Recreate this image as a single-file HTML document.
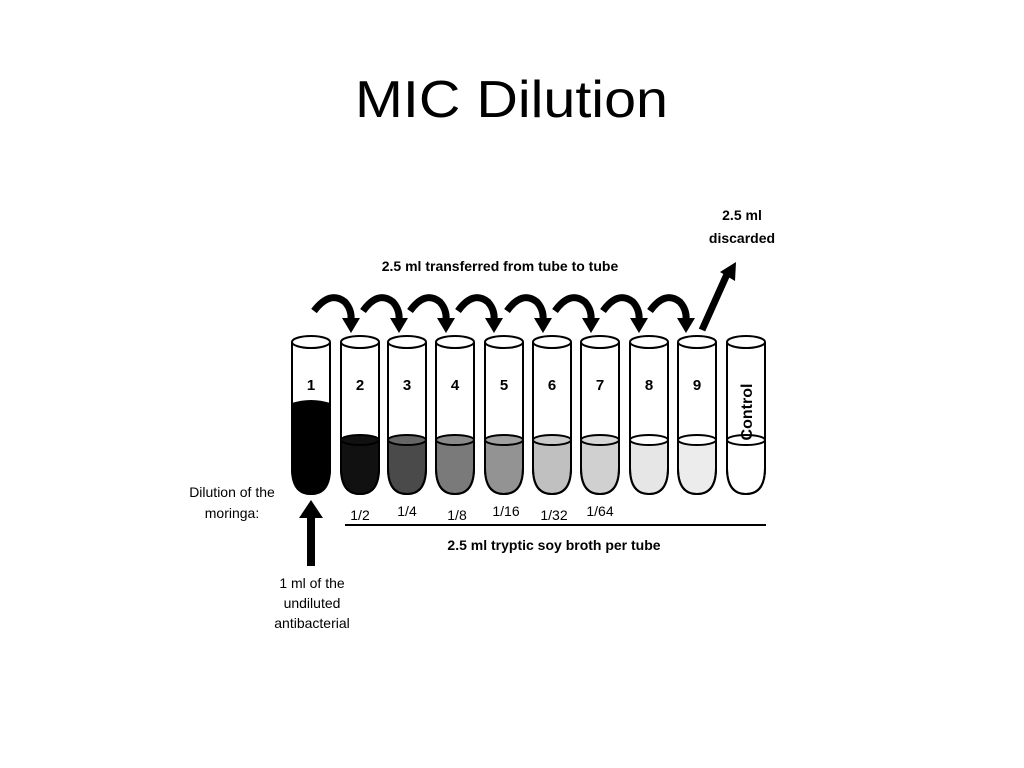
<!DOCTYPE html>
<html><head><meta charset="utf-8"><style>
body{margin:0;background:#fff;}
svg{display:block}
</style></head><body>
<svg width="1024" height="768" viewBox="0 0 1024 768" xmlns="http://www.w3.org/2000/svg" font-family="Liberation Sans, Arial, sans-serif">
<rect width="1024" height="768" fill="#fff"/>
<text x="355" y="117" font-family="Liberation Sans, sans-serif" font-size="52" textLength="313" lengthAdjust="spacingAndGlyphs" fill="#000">MIC Dilution</text>
<text x="500" y="271" text-anchor="middle" font-size="14" font-weight="bold">2.5 ml transferred from tube to tube</text>
<text x="742" y="220" text-anchor="middle" font-size="14" font-weight="bold">2.5 ml</text>
<text x="742" y="243" text-anchor="middle" font-size="14" font-weight="bold">discarded</text>
<g fill="none" stroke="#000" stroke-width="7">
<path d="M314,311 Q330,290 345,302 Q352,310 351,320"/>
<path d="M363,311 Q378,290 393,302 Q400,310 399,320"/>
<path d="M410,311 Q425,290 440,302 Q447,310 446,320"/>
<path d="M458,311 Q473,290 488,302 Q495,310 494,320"/>
<path d="M507,311 Q522,290 537,302 Q544,310 543,320"/>
<path d="M555,311 Q570,290 585,302 Q592,310 591,320"/>
<path d="M603,311 Q618,290 633,302 Q640,310 639,320"/>
<path d="M650,311 Q665,290 680,302 Q687,310 686,320"/>
<path d="M702,330 L728,272"/>
</g>
<g fill="#000">
<path d="M342,318 L360,318 L351,333z"/>
<path d="M390,318 L408,318 L399,333z"/>
<path d="M437,318 L455,318 L446,333z"/>
<path d="M485,318 L503,318 L494,333z"/>
<path d="M534,318 L552,318 L543,333z"/>
<path d="M582,318 L600,318 L591,333z"/>
<path d="M630,318 L648,318 L639,333z"/>
<path d="M677,318 L695,318 L686,333z"/>
<path d="M720,272 L736,262 L735,281z"/>
</g>
<g stroke="#000" stroke-width="2">
<path d="M292,404 Q311,398 330,404 L330,468 Q330,494 311,494 Q292,494 292,468z" fill="#000"/>
<path d="M292,342 L292,468 Q292,494 311,494 Q330,494 330,468 L330,342" fill="none"/>
<ellipse cx="311" cy="342" rx="19" ry="6" fill="#fff"/>
</g>
<g stroke="#000" stroke-width="2">
<g transform="translate(360,0)"><path d="M-19,440 L19,440 L19,468 Q19,494 0,494 Q-19,494 -19,468z" fill="#111"/><ellipse cx="0" cy="440" rx="19" ry="5" fill="#111"/><path d="M-19,342 V468 Q-19,494 0,494 Q19,494 19,468 V342" fill="none"/><ellipse cx="0" cy="342" rx="19" ry="6" fill="#fff"/></g>
<g transform="translate(407,0)"><path d="M-19,440 L19,440 L19,468 Q19,494 0,494 Q-19,494 -19,468z" fill="#4a4a4a"/><ellipse cx="0" cy="440" rx="19" ry="5" fill="#666"/><path d="M-19,342 V468 Q-19,494 0,494 Q19,494 19,468 V342" fill="none"/><ellipse cx="0" cy="342" rx="19" ry="6" fill="#fff"/></g>
<g transform="translate(455,0)"><path d="M-19,440 L19,440 L19,468 Q19,494 0,494 Q-19,494 -19,468z" fill="#7a7a7a"/><ellipse cx="0" cy="440" rx="19" ry="5" fill="#8a8a8a"/><path d="M-19,342 V468 Q-19,494 0,494 Q19,494 19,468 V342" fill="none"/><ellipse cx="0" cy="342" rx="19" ry="6" fill="#fff"/></g>
<g transform="translate(504,0)"><path d="M-19,440 L19,440 L19,468 Q19,494 0,494 Q-19,494 -19,468z" fill="#939393"/><ellipse cx="0" cy="440" rx="19" ry="5" fill="#a0a0a0"/><path d="M-19,342 V468 Q-19,494 0,494 Q19,494 19,468 V342" fill="none"/><ellipse cx="0" cy="342" rx="19" ry="6" fill="#fff"/></g>
<g transform="translate(552,0)"><path d="M-19,440 L19,440 L19,468 Q19,494 0,494 Q-19,494 -19,468z" fill="#c0c0c0"/><ellipse cx="0" cy="440" rx="19" ry="5" fill="#cacaca"/><path d="M-19,342 V468 Q-19,494 0,494 Q19,494 19,468 V342" fill="none"/><ellipse cx="0" cy="342" rx="19" ry="6" fill="#fff"/></g>
<g transform="translate(600,0)"><path d="M-19,440 L19,440 L19,468 Q19,494 0,494 Q-19,494 -19,468z" fill="#d0d0d0"/><ellipse cx="0" cy="440" rx="19" ry="5" fill="#d8d8d8"/><path d="M-19,342 V468 Q-19,494 0,494 Q19,494 19,468 V342" fill="none"/><ellipse cx="0" cy="342" rx="19" ry="6" fill="#fff"/></g>
<g transform="translate(649,0)"><path d="M-19,440 L19,440 L19,468 Q19,494 0,494 Q-19,494 -19,468z" fill="#e6e6e6"/><ellipse cx="0" cy="440" rx="19" ry="5" fill="#fff"/><path d="M-19,342 V468 Q-19,494 0,494 Q19,494 19,468 V342" fill="none"/><ellipse cx="0" cy="342" rx="19" ry="6" fill="#fff"/></g>
<g transform="translate(697,0)"><path d="M-19,440 L19,440 L19,468 Q19,494 0,494 Q-19,494 -19,468z" fill="#ececec"/><ellipse cx="0" cy="440" rx="19" ry="5" fill="#fff"/><path d="M-19,342 V468 Q-19,494 0,494 Q19,494 19,468 V342" fill="none"/><ellipse cx="0" cy="342" rx="19" ry="6" fill="#fff"/></g>
<g transform="translate(746,0)"><path d="M-19,440 L19,440 L19,468 Q19,494 0,494 Q-19,494 -19,468z" fill="#fff"/><ellipse cx="0" cy="440" rx="19" ry="5" fill="#fff"/><path d="M-19,342 V468 Q-19,494 0,494 Q19,494 19,468 V342" fill="none"/><ellipse cx="0" cy="342" rx="19" ry="6" fill="#fff"/></g>
</g>
<g font-size="15" font-weight="bold" text-anchor="middle">
<text x="311" y="390">1</text><text x="360" y="390">2</text><text x="407" y="390">3</text><text x="455" y="390">4</text><text x="504" y="390">5</text><text x="552" y="390">6</text><text x="600" y="390">7</text><text x="649" y="390">8</text><text x="697" y="390">9</text>
<text transform="translate(752,412) rotate(-90)" font-size="16">Control</text>
</g>
<g font-size="14" text-anchor="middle">
<text x="360" y="520">1/2</text><text x="407" y="516">1/4</text><text x="457" y="520">1/8</text><text x="506" y="516">1/16</text><text x="554" y="520">1/32</text><text x="600" y="516">1/64</text>
<text x="232" y="497">Dilution of the</text>
<text x="232" y="518">moringa:</text>
<text x="312" y="588">1 ml of the</text>
<text x="312" y="608">undiluted</text>
<text x="312" y="628">antibacterial</text>
</g>
<line x1="345" y1="525" x2="766" y2="525" stroke="#000" stroke-width="2"/>
<text x="554" y="550" text-anchor="middle" font-size="14" font-weight="bold">2.5 ml tryptic soy broth per tube</text>
<rect x="307" y="516" width="8" height="50" fill="#000"/>
<path d="M299,518 L311,500 L323,518z" fill="#000"/>
</svg>
</body></html>
